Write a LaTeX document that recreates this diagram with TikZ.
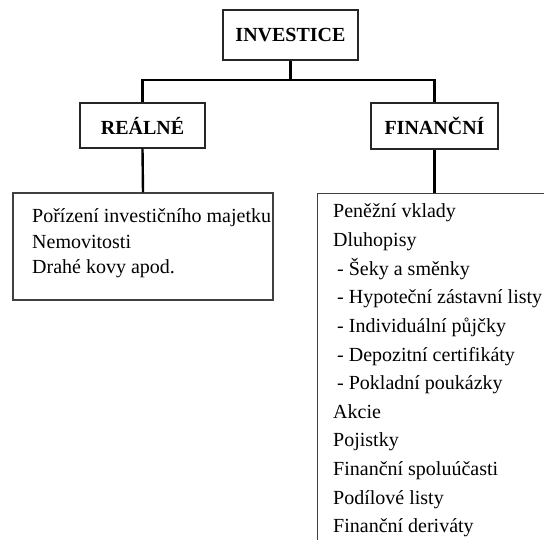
\documentclass[tikz,border=0pt]{standalone}
\usepackage{fontspec}
\setmainfont{Liberation Serif}
\usetikzlibrary{positioning}
\tikzset{headbox/.style = {draw=black!85, line width=1.4pt, inner sep=0,
                           font=\fontsize{20}{24}\selectfont\bfseries}}
\tikzset{listbox/.style = {draw=black!75, line width=1.4pt, inner sep=0}}
\tikzset{item/.style = {anchor=base west, inner sep=0, font=\fontsize{20}{24}\selectfont}}
\tikzset{link/.style = {line width=2.4pt, black}}

\begin{document}
\begin{tikzpicture}[x=1pt, y=-1pt]
    \useasboundingbox (0, 0) rectangle (544, 540);
    \clip (0, 0) rectangle (544, 540);

    \node [headbox, minimum width=135, minimum height=50] (inv) at (290.5, 35) {INVESTICE};
    \node [headbox, minimum width=125, minimum height=45] (real) at (142.5, 125.5) {REÁLNÉ};
    \node [headbox, minimum width=127, minimum height=46] (fin) at (434.5, 126) {FINANČNÍ};

    % boxes with the lists
    \node [listbox, minimum width=260, minimum height=107] (reallist) at (143, 246.5) {};
    \node [listbox, minimum width=260, minimum height=380, anchor=north west] (finlist) at (317, 193) {};

    \coordinate (bar) at (inv.south |- 0, 80);
    \draw [link] (inv.south) -- (bar);
    \draw [link] (real.north) |- (bar) -| (fin.north);
    \draw [link] (real.south) -- (reallist.north);
    \draw [link] (fin.south) -- (fin.south |- finlist.north);

    \foreach \t [count=\i] in {Pořízení investičního majetku, Nemovitosti, Drahé kovy apod.} {
      \node [item] (r\i) at (32, 223 + 25.5 * \i - 25.5) {\t};
    }
    \foreach \t/\dx [count=\i] in {Peněžní vklady/0, Dluhopisy/0, - Šeky a směnky/4,
        - Hypoteční zástavní listy/4, - Individuální půjčky/4, - Depozitní certifikáty/4,
        - Pokladní poukázky/4, Akcie/0, Pojistky/0, Finanční spoluúčasti/0,
        Podílové listy/0, Finanční deriváty/0} {
      \node [item] (f\i) at (333 + \dx, 218 + 28.6 * \i - 28.6) {\t};
    }
\end{tikzpicture}
\end{document}
